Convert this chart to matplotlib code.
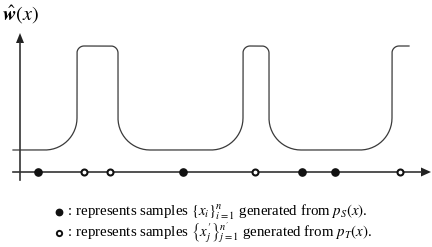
import numpy as np
import matplotlib.pyplot as plt

plt.rcParams['mathtext.fontset'] = 'stix'
plt.rcParams['font.family'] = ['Liberation Serif', 'DejaVu Serif']

# schematic curve: plateau edges (left, right) in pixel units, levels
peak_left = [77, 243, 392]
peak_right = [118, 269, 409]
low_level = 150
high_level = 46
curve_start = 13

# samples on the x axis
source_x = [38, 183, 302, 335]      # filled dots: x_i ~ p_S
target_x = [84, 110, 255, 400]      # open dots: x'_j ~ p_T

axis_y = 172
axis_x = 20


def arc(cx, cy, rx, ry, t0, t1, n=30):
    t = np.linspace(t0, t1, n)
    return cx + rx * np.cos(t), cy + ry * np.sin(t)


R, r = 32, 7
xs, ys = [curve_start], [low_level]
pi = np.pi
for k, (a, b) in enumerate(zip(peak_left, peak_right)):
    # rise
    x1, y1 = arc(a - R, low_level - R, R, R, pi / 2, 0)
    xs += list(x1); ys += list(y1)
    x1, y1 = arc(a + r, high_level + r, r, r, pi, 3 * pi / 2)
    xs += list(x1); ys += list(y1)
    if k == len(peak_left) - 1:
        xs.append(b); ys.append(high_level)
        break
    x1, y1 = arc(b - r, high_level + r, r, r, 3 * pi / 2, 2 * pi)
    xs += list(x1); ys += list(y1)
    x1, y1 = arc(b + R, low_level - R, R, R, pi, pi / 2)
    xs += list(x1); ys += list(y1)

fig = plt.figure(figsize=(4.32, 2.47), dpi=100)
ax = fig.add_axes([0, 0, 1, 1])
ax.set_xlim(0, 432)
ax.set_ylim(247, 0)
ax.axis('off')

ax.plot(xs, ys, color='#3a3a3a', lw=0.9, solid_joinstyle='round')

# axes with arrows
ax.plot([13, 421], [axis_y, axis_y], color='#333333', lw=1.2)
ax.plot([axis_x, axis_x], [43, 180], color='#333333', lw=1.2)
ax.fill([421, 431, 421], [axis_y - 4.5, axis_y, axis_y + 4.5], color='#222222', lw=0)
ax.fill([axis_x - 4, axis_x, axis_x + 4], [43, 33, 43], color='#222222', lw=0)

ax.plot(source_x, [axis_y] * len(source_x), 'o', ms=5.2, color='#111111', zorder=3)
ax.plot(target_x, [axis_y] * len(target_x), 'o', ms=4.3, mfc='white',
        mec='#111111', mew=1.5, zorder=3)

ax.text(2, 20, r'$\hat{\boldsymbol{w}}(x)$', fontsize=14.5, va='baseline', ha='left')

# legend
ax.plot([59], [212], 'o', ms=4.6, color='#111111')
ax.plot([59], [233], 'o', ms=3.8, mfc='white', mec='#111111', mew=1.4)
ax.text(64, 212, r' : represents samples $\left\{x_i\right\}_{i=1}^{n}$ generated from $p_S(x)$.',
        fontsize=10.7, va='center', ha='left')
ax.text(64, 233, r" : represents samples $\left\{x^{\prime}_j\right\}_{j=1}^{n^{\prime}}$ generated from $p_T(x)$.",
        fontsize=10.7, va='center', ha='left')

fig.savefig('out.png', dpi=100)
